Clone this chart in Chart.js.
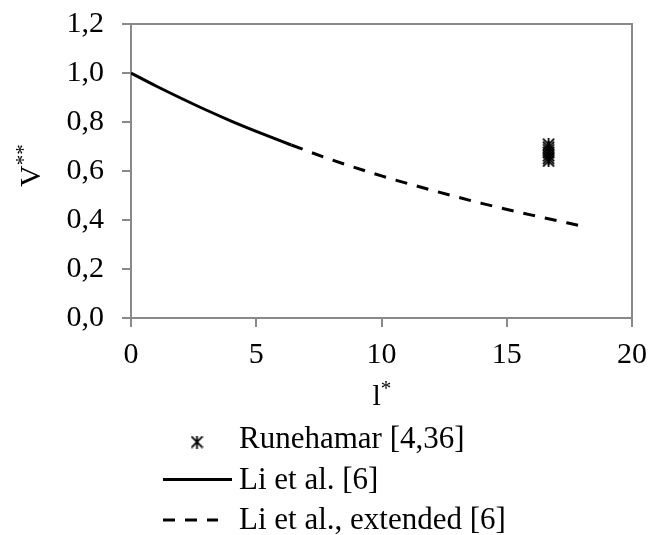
<!DOCTYPE html>
<html>
<head>
<meta charset="utf-8">
<script src="https://cdn.jsdelivr.net/npm/chart.js@4.4.0/dist/chart.umd.min.js"></script>
<style>
  html, body { margin: 0; padding: 0; background: #fff; }
  #wrap { width: 649px; height: 535px; }
</style>
</head>
<body>
<div id="wrap"><canvas id="chart"></canvas></div>
<script>
// 데이터
const liX = [0, 1, 2, 3, 4, 5, 6, 6.4];
const liY = [1.0, 0.947, 0.897, 0.849, 0.804, 0.762, 0.722, 0.706];
const extX = [6.4, 8, 10, 12, 14, 16, 18.1];
const extY = [0.706, 0.646, 0.580, 0.522, 0.468, 0.420, 0.373];
const runeX = [16.67, 16.67, 16.67, 16.67, 16.67, 16.67, 16.67];
const runeY = [0.641, 0.652, 0.663, 0.675, 0.686, 0.697, 0.709];
const xTicks = [0, 5, 10, 15, 20];
const yTicks = [0, 0.2, 0.4, 0.6, 0.8, 1.0, 1.2];
const yTickLabels = ['0,0', '0,2', '0,4', '0,6', '0,8', '1,0', '1,2'];
const seriesNames = ['Runehamar [4,36]', 'Li et al. [6]', 'Li et al., extended [6]'];

const FONT = '"Liberation Serif", "Times New Roman", serif';
const axisColor = '#898989';
const lineDash = [12, 10];

// 별표 마커 (x + 세로선)
function makeAsterisk(size, lw) {
    const c = document.createElement('canvas');
    c.width = size;
    c.height = size;
    const g = c.getContext('2d');
    g.strokeStyle = '#000';
    g.lineWidth = lw;
    const p = lw / 2, s = size - lw / 2;
    g.beginPath();
    g.moveTo(p, p); g.lineTo(s, s);
    g.moveTo(s, p); g.lineTo(p, s);
    g.moveTo(size / 2, 0); g.lineTo(size / 2, size);
    g.stroke();
    return c;
}
const asterisk = makeAsterisk(13, 1.8);

function toPoints(xs, ys) {
    return xs.map((x, i) => ({ x: x, y: ys[i] }));
}

// 플롯 테두리, 축 제목, 범례
const extrasPlugin = {
    id: 'extras',
    beforeDatasetsDraw(chart) {
        const { ctx, chartArea: a } = chart;
        ctx.save();
        ctx.strokeStyle = axisColor;
        ctx.lineWidth = 2;
        ctx.strokeRect(a.left, a.top, a.right - a.left, a.bottom - a.top);
        ctx.restore();
    },
    afterDraw(chart) {
        const { ctx, chartArea: a } = chart;
        ctx.save();
        ctx.fillStyle = '#000';
        ctx.textBaseline = 'alphabetic';
        ctx.textAlign = 'left';

        // y 축 제목 V**
        ctx.save();
        ctx.translate(40, 187);
        ctx.rotate(-Math.PI / 2);
        ctx.font = '30px ' + FONT;
        ctx.fillText('V', 0, 0);
        const vw = ctx.measureText('V').width;
        ctx.font = '21px ' + FONT;
        ctx.fillText('**', vw, -10);
        ctx.restore();

        // x 축 제목 l*
        ctx.font = '30px ' + FONT;
        const lw = ctx.measureText('l').width;
        const cx = (a.left + a.right) / 2 - 9;
        ctx.fillText('l', cx, 405);
        ctx.font = '21px ' + FONT;
        ctx.fillText('*', cx + lw, 395);

        // 범례
        const textX = 239;
        const rows = [448, 489, 529];
        ctx.font = '31px ' + FONT;
        seriesNames.forEach((name, i) => ctx.fillText(name, textX, rows[i]));

        ctx.drawImage(asterisk, 197 - asterisk.width / 2, 442 - asterisk.height / 2);

        ctx.strokeStyle = '#000';
        ctx.lineWidth = 3;
        ctx.beginPath();
        ctx.moveTo(163, 479.5);
        ctx.lineTo(232, 479.5);
        ctx.stroke();

        ctx.setLineDash(lineDash);
        ctx.beginPath();
        ctx.moveTo(163, 520);
        ctx.lineTo(218, 520);
        ctx.stroke();
        ctx.restore();
    }
};

function initializeChart() {
    const ctx = document.getElementById('chart').getContext('2d');
    new Chart(ctx, {
        type: 'scatter',
        data: {
            datasets: [{
                label: seriesNames[0],
                data: toPoints(runeX, runeY),
                showLine: false,
                pointStyle: asterisk,
                pointRadius: 6,
                borderColor: '#000',
                backgroundColor: '#000'
            }, {
                label: seriesNames[1],
                data: toPoints(liX, liY),
                showLine: true,
                borderColor: '#000',
                borderWidth: 3,
                pointRadius: 0,
                cubicInterpolationMode: 'monotone'
            }, {
                label: seriesNames[2],
                data: toPoints(extX, extY),
                showLine: true,
                borderColor: '#000',
                borderWidth: 3,
                borderDash: lineDash,
                pointRadius: 0,
                cubicInterpolationMode: 'monotone'
            }]
        },
        options: {
            responsive: true,
            maintainAspectRatio: false,
            animation: false,
            layout: { padding: { left: 0, right: 17, top: 24, bottom: 157 } },
            plugins: {
                legend: { display: false },
                tooltip: { enabled: false }
            },
            scales: {
                x: {
                    type: 'linear',
                    min: 0,
                    max: 20,
                    afterBuildTicks: s => { s.ticks = xTicks.map(v => ({ value: v })); },
                    afterFit: s => { s.height = 60; s.paddingLeft = 0; s.paddingRight = 0; },
                    ticks: {
                        color: '#000',
                        font: { family: FONT, size: 30 },
                        padding: 10,
                        maxRotation: 0
                    },
                    grid: { drawOnChartArea: false, tickLength: 9, color: axisColor, lineWidth: 2 },
                    border: { color: axisColor, width: 2 }
                },
                y: {
                    type: 'linear',
                    min: 0,
                    max: 1.2,
                    afterBuildTicks: s => { s.ticks = yTicks.map(v => ({ value: v })); },
                    afterFit: s => { s.width = 131; s.paddingTop = 0; s.paddingBottom = 0; },
                    ticks: {
                        color: '#000',
                        font: { family: FONT, size: 30 },
                        padding: 18,
                        callback: (v, i) => yTickLabels[i]
                    },
                    grid: { drawOnChartArea: false, tickLength: 9, color: axisColor, lineWidth: 2 },
                    border: { color: axisColor, width: 2 }
                }
            }
        },
        plugins: [extrasPlugin]
    });
}

document.addEventListener('DOMContentLoaded', initializeChart);
</script>
</body>
</html>
